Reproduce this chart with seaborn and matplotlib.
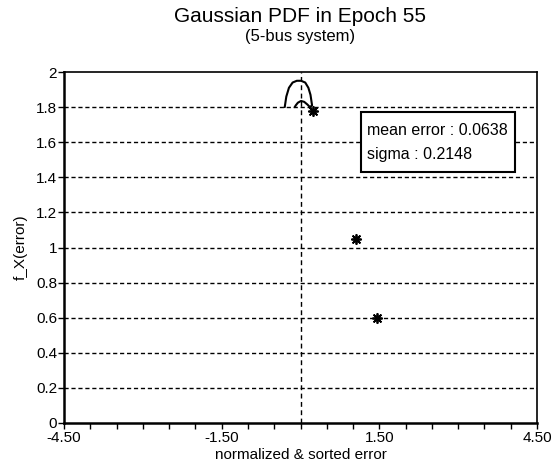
import matplotlib
matplotlib.use("Agg")
import matplotlib.pyplot as plt
import seaborn as sns
import pandas as pd
from matplotlib.patches import Rectangle

# ---- data ----
curve_x = [-0.30, -0.27, -0.22, -0.15, -0.07, 0.01, 0.09, 0.15, 0.19, 0.22,
           0.18, 0.13, 0.07, 0.01, -0.05, -0.09, -0.11]
curve_y = [1.80, 1.86, 1.91, 1.94, 1.95, 1.95, 1.94, 1.91, 1.87, 1.81,
           1.80, 1.815, 1.83, 1.835, 1.825, 1.81, 1.80]
star_x = [0.24, 1.05, 1.46]
star_y = [1.78, 1.05, 0.60]
x_ticks = [-4.5, -1.5, 1.5, 4.5]
x_tick_labels = ["-4.50", "-1.50", "1.50", "4.50"]
y_ticks = [0, 0.2, 0.4, 0.6, 0.8, 1, 1.2, 1.4, 1.6, 1.8, 2]
y_tick_labels = ["0", "0.2", "0.4", "0.6", "0.8", "1", "1.2", "1.4", "1.6", "1.8", "2"]
mean_error = "0.0638"
sigma = "0.2148"
title = "Gaussian PDF in Epoch 55"
subtitle = "(5-bus system)"

sns.set_theme(style="white")
plt.rcParams["font.family"] = ["Liberation Sans", "DejaVu Sans"]
plt.rcParams["lines.scale_dashes"] = False

fig = plt.figure(figsize=(5.52, 4.72), dpi=100)
ax = fig.add_axes([64 / 552, 49 / 472, 473 / 552, 351 / 472])

# grid lines
for yv in y_ticks[1:-1]:
    ax.axhline(yv, color="black", lw=1.0, ls=(0, (3, 2)), zorder=1)
ax.axvline(0, color="black", lw=1.0, ls=(0, (3.5, 2.5)), zorder=1)

curve_df = pd.DataFrame({"x": curve_x, "y": curve_y})
sns.lineplot(data=curve_df, x="x", y="y", sort=False, color="black", lw=1.5,
             ax=ax, zorder=3, estimator=None)

star_df = pd.DataFrame({"x": star_x, "y": star_y})
sns.scatterplot(data=star_df, x="x", y="y", marker=(8, 2, 0), s=45,
                color="black", linewidth=1.3, edgecolor="black", ax=ax, zorder=4)

ax.set_xlim(-4.5, 4.5)
ax.set_ylim(0, 2)
minor_positions = [-4.5 + 0.5 * i for i in range(19)]
ax.set_xticks(minor_positions)
ax.set_xticklabels([x_tick_labels[x_ticks.index(p)] if p in x_ticks else ""
                    for p in minor_positions])
ax.set_yticks(y_ticks)
ax.set_yticklabels(y_tick_labels)
ax.tick_params(axis="both", direction="out", length=4, width=1.0, colors="black",
               labelsize=11)
ax.tick_params(axis="x", bottom=True, pad=2)
ax.tick_params(axis="y", left=True, pad=1)

for side in ["left", "bottom"]:
    ax.spines[side].set_linewidth(1.8)
    ax.spines[side].set_color("black")
for side in ["top", "right"]:
    ax.spines[side].set_linewidth(1.2)
    ax.spines[side].set_color("black")
    ax.spines[side].set_visible(True)

ax.set_xlabel("normalized & sorted error", fontsize=11, labelpad=2, color="black")
ax.set_ylabel("f_X(error)", fontsize=11, labelpad=6, color="black")

# info box
box = Rectangle((1.15, 1.43), 2.93, 0.342, facecolor="white", edgecolor="black",
                lw=1.5, zorder=5)
ax.add_patch(box)
ax.text(1.27, 1.665, f"mean error : {mean_error}", fontsize=11.5, va="center",
        ha="left", color="black", zorder=6)
ax.text(1.27, 1.53, f"sigma : {sigma}", fontsize=11.5, va="center",
        ha="left", color="black", zorder=6)

fig.text(300.5 / 552, 1 - 17 / 472, title, fontsize=15, ha="center", va="center",
         color="black")
fig.text(300.5 / 552, 1 - 37 / 472, subtitle, fontsize=12, ha="center", va="center",
         color="black")

fig.savefig("out.png", dpi=100, facecolor="white")
